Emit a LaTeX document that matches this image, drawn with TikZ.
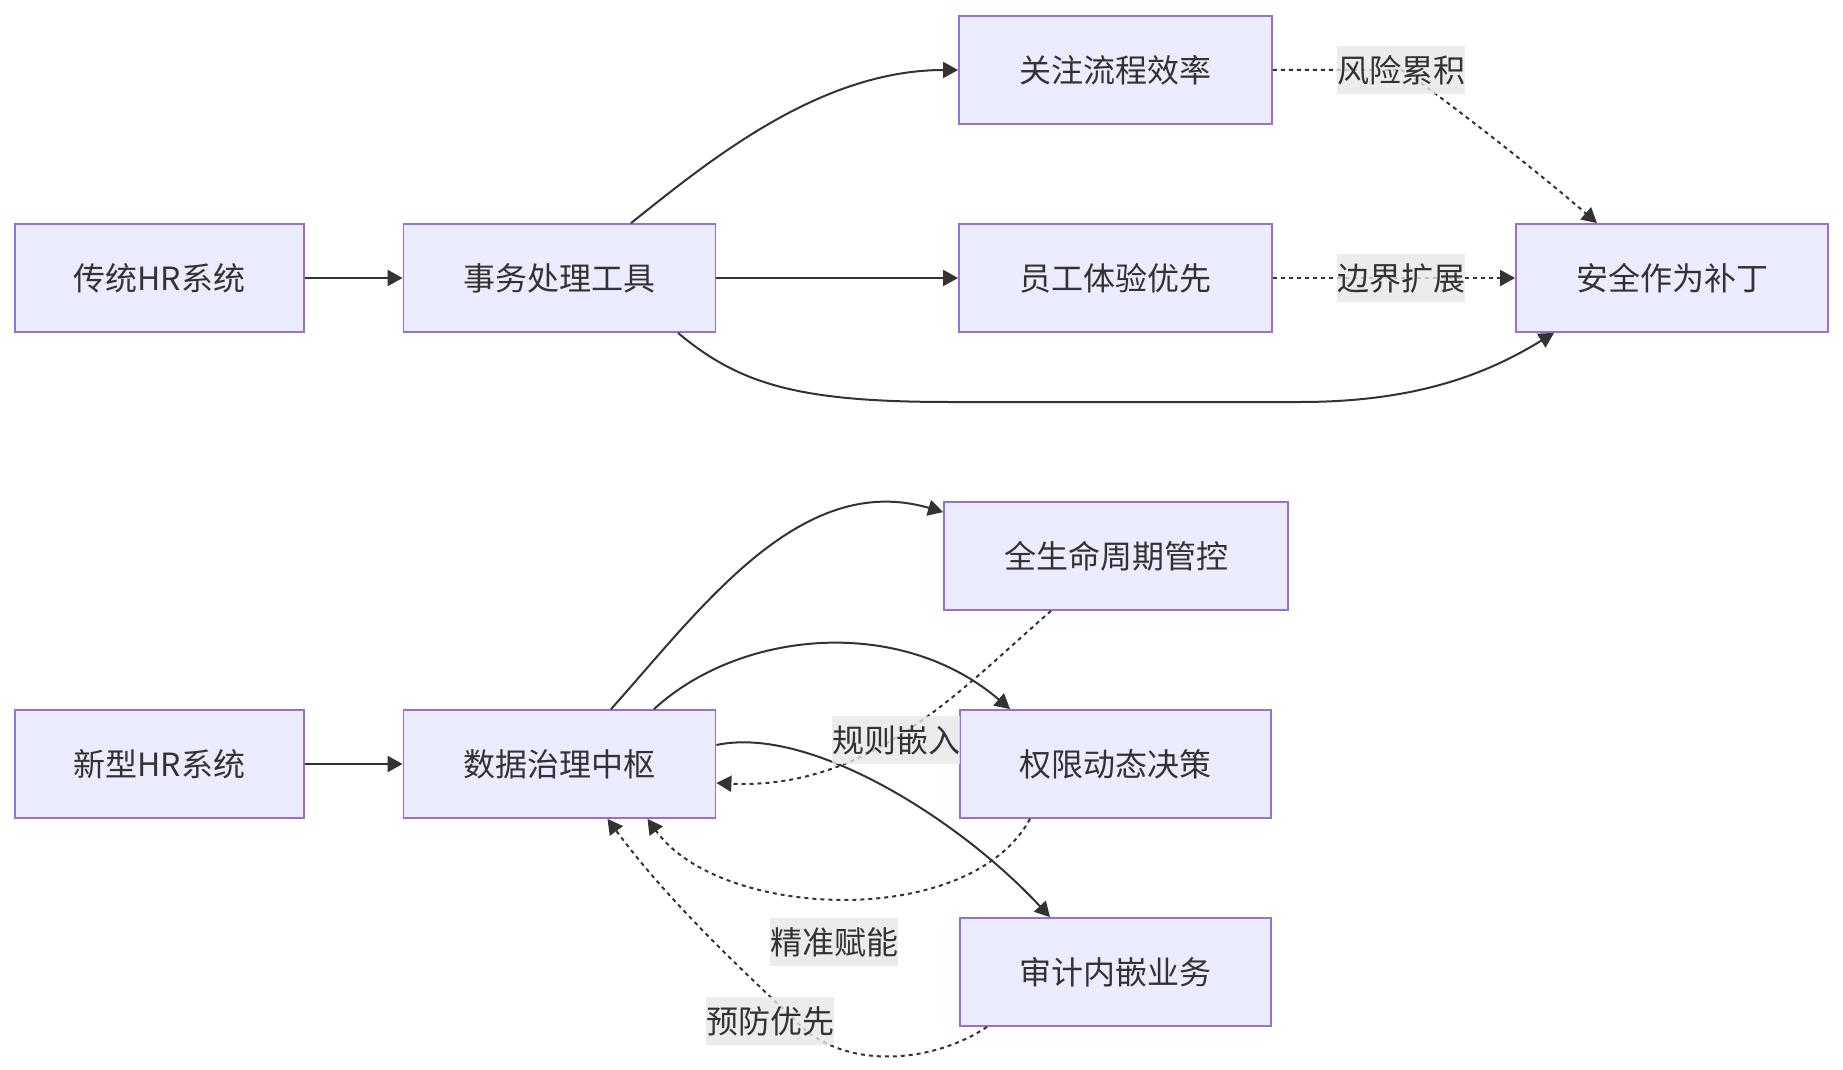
\documentclass[tikz,border=0pt]{standalone}
\usepackage{fontspec}
\newfontfamily\cjk{Noto Sans CJK SC}
\usetikzlibrary{arrows.meta}
\definecolor{nodefill}{HTML}{ECECFF}
\definecolor{nodeborder}{HTML}{9370DB}
\definecolor{edgecol}{HTML}{333333}
\definecolor{labelbg}{HTML}{E8E8E8}
\begin{document}
\begin{tikzpicture}[x=0.5pt,y=-0.5pt,
  box/.style={draw=nodeborder,fill=nodefill,line width=0.9pt,minimum height=54pt,inner sep=0pt,
    font=\cjk\fontsize{16pt}{19pt}\selectfont,text=edgecol},
  lbl/.style={fill=labelbg,fill opacity=0.8,text opacity=1,inner xsep=0pt,inner ysep=0pt,minimum height=24pt,
    font=\cjk\fontsize{16pt}{19pt}\selectfont,text=edgecol},
  edge/.style={draw=edgecol,line width=1pt,-{Triangle[length=7.5pt,width=8pt]}},
  dotedge/.style={edge,dash pattern=on 2pt off 2pt}]
\useasboundingbox[fill=white] (0,0) rectangle (1843,1070);

% top row
\node[box,minimum width=144.5pt] (a) at (159.5,278) {传统HR系统};
\node[box,minimum width=156pt] (b) at (559.5,278) {事务处理工具};
\node[box,minimum width=156.5pt] (c) at (1115.5,70) {关注流程效率};
\node[box,minimum width=156.5pt] (d) at (1115.5,278) {员工体验优先};
\node[box,minimum width=156pt] (e) at (1672,278) {安全作为补丁};

% bottom row
\node[box,minimum width=144.5pt] (f) at (159.5,764) {新型HR系统};
\node[box,minimum width=156pt] (g) at (559.5,764) {数据治理中枢};
\node[box,minimum width=172pt] (h) at (1116,556) {全生命周期管控};
\node[box,minimum width=155.5pt] (i) at (1115.5,764) {权限动态决策};
\node[box,minimum width=155.5pt] (j) at (1115.5,972) {审计内嵌业务};

\coordinate (p1) at (1401,70);
\coordinate (p2) at (1401,278);
\coordinate (p3) at (896,740);
\coordinate (p4) at (834,942);
\coordinate (p5) at (770,1021);

% top edges
\draw[edge] (a.east) -- (b.west);
\draw[edge] ([xshift=35.75pt]b.north) .. controls (710,160) and (820,70) .. (c.west);
\draw[edge] (b.east) -- (d.west);
\draw[edge] ([xshift=59.25pt]b.south) .. controls (740,385) and (800,402) .. (950,402)
  -- (1300,402) .. controls (1420,402) and (1490,372) .. ([xshift=-59pt]e.south);
\draw[dotedge] (c.east) -- (p1) .. controls (1420,80) and (1530,165) .. ([xshift=-37.5pt]e.north);
\draw[dotedge] (d.east) -- (e.west);

% bottom edges
\draw[edge] (f.east) -- (g.west);
\draw[edge] ([xshift=25.75pt]g.north) .. controls (700,610) and (800,470) .. ([yshift=-5.5pt]h.north west);
\draw[edge] ([xshift=47.25pt]g.north) .. controls (740,630) and (900,615) .. ([xshift=-52.75pt]i.north);
\draw[edge] ([yshift=9.5pt]g.east) .. controls (810,725) and (960,820) .. ([xshift=-32.75pt]j.north);
\draw[dotedge] ([xshift=-32.5pt]h.south) .. controls (960,690) and (870,790) .. ([yshift=-9.5pt]g.east);
\draw[dotedge] ([xshift=-42.75pt]i.south) .. controls (970,930) and (720,920) .. ([xshift=44pt]g.south);
\draw[dotedge] ([xshift=-64.25pt]j.south) .. controls (930,1065) and (840,1070) .. (795,1020)
  .. controls (720,950) and (660,890) .. ([xshift=24pt]g.south);

% labels
\node[lbl] (l1) at (p1) {风险累积};
\node[lbl] (l2) at (p2) {边界扩展};
\node[lbl] (l3) at (p3) {规则嵌入};
\node[lbl] (l4) at (p4) {精准赋能};
\node[lbl] (l5) at (p5) {预防优先};
\end{tikzpicture}
\end{document}
